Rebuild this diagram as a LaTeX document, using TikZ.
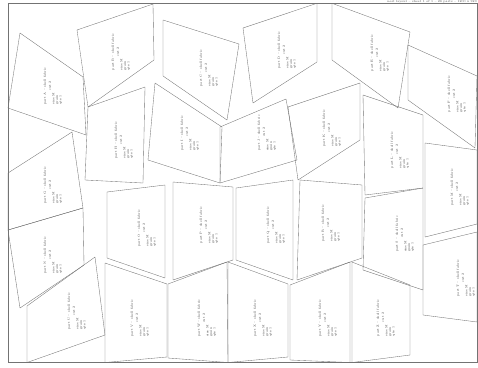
\documentclass[tikz,border=0pt]{standalone}
\usepackage{tikz}
\usepackage{graphicx}

\begin{document}
\begin{tikzpicture}[x=1pt,y=-1pt,
  sheet/.style={draw=black!55,line width=0.45pt},
  part/.style={draw=black!55,line width=0.35pt,line join=round},
  tag/.style={inner sep=0pt,text=black!80,
              font=\fontsize{3}{3.5}\selectfont},
  head/.style={anchor=north east,inner sep=0pt,text=black!70,
               font=\fontsize{3}{3}\selectfont}]

\useasboundingbox (0,0) rectangle (478,367);
\draw[sheet] (8,3.3) rectangle (477.6,362.5);
\node[head] (hdr) at (477,0.2) {nest layout -- sheet 1 of 1 -- 26 parts -- 1200 x 920};

% parts: name / four corners / label centre
\foreach \n/\p/\q/\r/\s/\c in {
  A/{20,33}/{83,77}/{86,135}/{8,108}/{53,86},
  B/{77,30}/{153,4}/{154,60}/{88,107}/{121,52},
  C/{163,20}/{239,44}/{227,120}/{163,76}/{209,68},
  D/{243,28}/{317,3.3}/{317,62}/{253,103}/{287,50},
  E/{332,3.3}/{410,32}/{398,108}/{332,60}/{380,53},
  F/{408,45}/{477,76}/{475,148}/{408,100}/{457,94},
  G/{8,173}/{72,132}/{83,208}/{8,230}/{53,185},
  H/{88,107}/{145,87}/{143,183}/{85,180}/{124,140},
  I/{155,83}/{222,127}/{220,183}/{148,160}/{190,133},
  J/{220,127}/{286,99}/{297,160}/{220,183}/{267,133},
  K/{288,107}/{360,83}/{360,140}/{298,180}/{332,128},
  L/{363,95}/{423,115}/{423,188}/{365,195}/{400,150},
  M/{425,143}/{477,150}/{477,224}/{425,237}/{460,187},
  N/{8,230}/{83,208}/{84,265}/{20,308}/{53,255},
  O/{107,192}/{165,185}/{165,278}/{107,258}/{147,228},
  P/{173,182}/{233,187}/{233,260}/{173,280}/{209,225},
  Q/{236,188}/{293,180}/{293,280}/{236,260}/{276,225},
  R/{300,180}/{362,185}/{362,258}/{297,280}/{331,223},
  S/{365,198}/{423,188}/{423,290}/{363,270}/{405,234},
  T/{423,245}/{477,232}/{477,322}/{423,315}/{466,278},
  U/{27,306}/{95,257}/{105,335}/{27,362.5}/{77,311},
  V/{105,263}/{167,284}/{167,357}/{105,362.5}/{140,318},
  W/{168,284}/{227,262}/{228,362.5}/{168,358}/{207,318},
  X/{228,262}/{288,284}/{288,357}/{228,362.5}/{263,318},
  Y/{290,285}/{350,262}/{350,362.5}/{290,360}/{328,318},
  Z/{352,262}/{410,285}/{410,355}/{352,362.5}/{386,318}}
{
  \draw[part] (\p) -- (\q) -- (\r) -- (\s) -- cycle;
  \node[tag] (lbl\n) at (\c) {\rotatebox{90}{\begin{tabular}{@{}l@{}}
    part \n{} -- shell fabric\\[1.5pt]
    \hspace*{14pt}cut 2\\ size M\\ grain\\ qty 1\end{tabular}}};
}
\end{tikzpicture}
\end{document}
